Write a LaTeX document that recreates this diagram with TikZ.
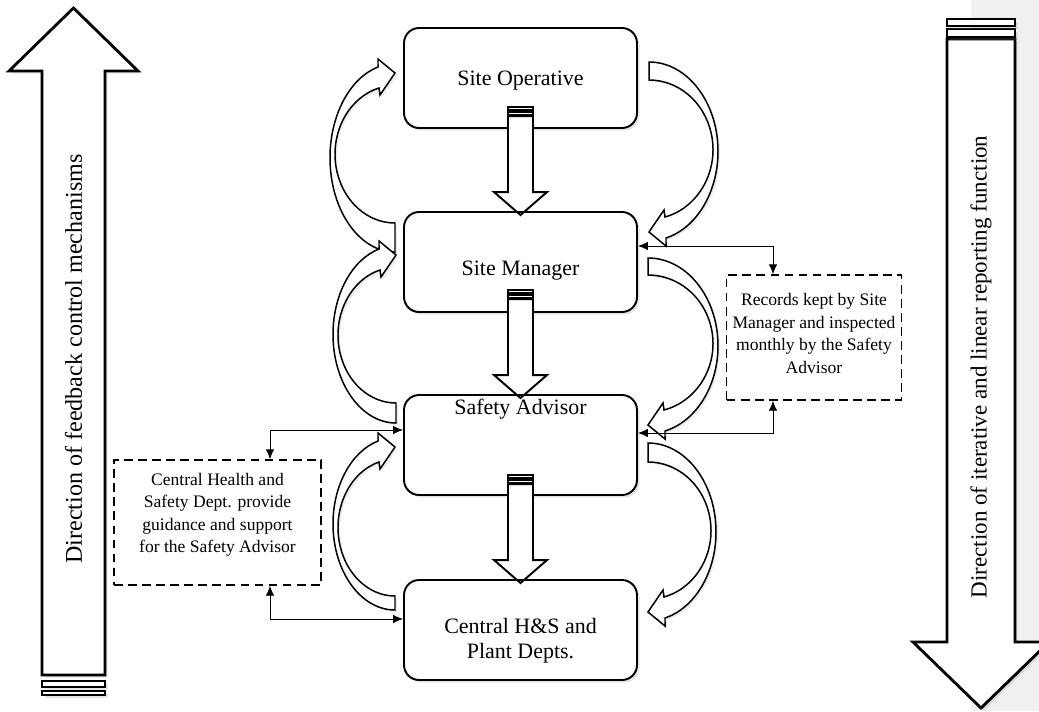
\documentclass[tikz,border=0pt]{standalone}
\usepackage{fontspec}
\setmainfont{Liberation Serif}
\usetikzlibrary{arrows.meta,shadows}
\tikzset{
  stage/.style={draw,line width=1.1pt,rounded corners=0.3cm,fill=white,minimum width=4.66cm,inner ysep=0.1cm,align=center,font=\fontsize{12.5}{14.2}\selectfont,drop shadow={opacity=0.2,shadow xshift=1.5pt,shadow yshift=-1.5pt}},
  note/.style={draw,line width=0.8pt,dash pattern=on 5pt off 3pt,fill=white,align=center,inner ysep=0.1cm,font=\fontsize{10}{12.8}\selectfont},
  bigarrow/.style={draw,line width=1.6pt,fill=white,drop shadow={opacity=0.2,shadow xshift=1.5pt,shadow yshift=-1.5pt}},
  droparrow/.style={draw,line width=1.1pt},
  bendarrow/.style={draw,line width=0.85pt,fill=white,drop shadow={opacity=0.15,shadow xshift=1.2pt,shadow yshift=-1.2pt}},
  sidetext/.style={rotate=90},
  link/.style={<->,line width=0.5pt}
}
\newcommand{\tikzBendArrow}[4]{% #1 scope options, #2 span, #3 tail width, #4 bulge
  \pgfmathsetmacro{\bendSo}{sqrt(1-(17/#4)^2)}
  \pgfmathsetmacro{\bendRo}{(#2+6)/(1+\bendSo)}
  \pgfmathsetmacro{\bendAo}{180+acos(17/#4)}
  \pgfmathsetmacro{\bendRx}{#4-5}
  \pgfmathsetmacro{\bendSi}{sqrt(1-(16/\bendRx)^2)}
  \pgfmathsetmacro{\bendRi}{(#2-#3-15)/(1+\bendSi)}
  \pgfmathsetmacro{\bendAi}{180+acos(16/\bendRx)}
  \begin{scope}[#1]
    \draw[bendarrow] (0,#2)
      arc[start angle=90,end angle=\bendAo,x radius=#4,y radius=\bendRo]
      -- (-17,-14) -- (0,0) -- (-15,22) -- (-16,15)
      arc[start angle=\bendAi,end angle=90,x radius=\bendRx,y radius=\bendRi] -- cycle;
  \end{scope}
}
\newcommand{\tikzDropArrow}[1]{% #1 = node the arrow points at
  \begin{scope}[shift={(#1.north)}]
    \fill[white] (-12.5,-95) rectangle (12.5,-19);
    \draw[droparrow] (-12.5,-95) -- (-12.5,-19) -- (-26.5,-19) -- (0,4) -- (26.5,-19) -- (12.5,-19) -- (12.5,-95) -- cycle;
    \draw[droparrow] (-12.5,-104) rectangle (12.5,-101);
    \draw[droparrow] (-12.5,-99.5) rectangle (12.5,-96.5);
  \end{scope}
}
\begin{document}
\begin{tikzpicture}[x=0.02cm,y=-0.02cm,>={Latex[length=2mm,width=1.7mm]}]
  \useasboundingbox (0,0) rectangle (1039,711);
  \fill[black!6] (971,0) rectangle (1039,711);

  % side arrows
  \draw[bigarrow] (42,675) -- (42,71) -- (9,71) -- (73.5,8) -- (138,71) -- (105,71) -- (105,675) -- cycle;
  \draw[bigarrow] (42,681) rectangle (105,687);
  \draw[bigarrow] (42,691) rectangle (105,695);
  \node [sidetext,font=\fontsize{13.7}{16}\selectfont] (feedback) at (73.5,359) {Direction of feedback control mechanisms};
  \draw[bigarrow] (947,39) -- (947,642) -- (913,642) -- (981,708) -- (1049,642) -- (1015,642) -- (1015,39) -- cycle;
  \draw[bigarrow] (947,29) rectangle (1015,37);
  \draw[bigarrow] (947,19) rectangle (1015,26);
  \node [sidetext,font=\fontsize{13.1}{16}\selectfont] (reporting) at (981,367) {Direction of iterative and linear reporting function};

  % chain of roles
  \node [stage,text height=1.05cm,text depth=0.75cm] (op) at (520.5,78) {Site Operative};
  \node [stage,text height=1.17cm,text depth=0.63cm] (mgr) at (520.5,262) {Site Manager};
  \node [stage,text height=0.28cm,text depth=1.52cm] (adv) at (520.5,445) {Safety Advisor};
  \node [stage,text height=1.47cm,text depth=0.33cm] (cen) at (520.5,630) {Central H\&S and\\Plant Depts.};
  \tikzDropArrow{mgr}
  \tikzDropArrow{adv}
  \tikzDropArrow{cen}

  % feedback loops
  \tikzBendArrow{shift={(395,73)}}{179}{29}{65}
  \tikzBendArrow{shift={(396,255)}}{168}{20}{63}
  \tikzBendArrow{shift={(395,447)}}{163}{14}{62}
  \tikzBendArrow{shift={(649,232)},rotate=180}{170}{18}{69}
  \tikzBendArrow{shift={(648,425)},rotate=180}{167}{17}{70}
  \tikzBendArrow{shift={(648,612)},rotate=180}{169}{19}{68}

  % notes
  \node [note,minimum width=3.44cm,text height=1.86cm,text depth=0.44cm] (rec) at (814,337.5) {Records kept by Site\\Manager and inspected\\monthly by the Safety\\Advisor};
  \node [note,minimum width=4.14cm,text height=1.75cm,text depth=0.55cm] (csd) at (217.5,522.5) {Central Health and\\Safety Dept. provide\\guidance and support\\for the Safety Advisor};
  \coordinate (rtop) at (773,246);
  \coordinate (rbot) at (773,433);
  \coordinate (ltop) at (270,430);
  \coordinate (lbot) at (270,619);
  \draw[link] (mgr.east |- rtop) -- (rtop) -- (rec.north -| rtop);
  \draw[link] (adv.east |- rbot) -- (rbot) -- (rec.south -| rbot);
  \draw[link] (adv.west |- ltop) -- (ltop) -- (csd.north -| ltop);
  \draw[link] (cen.west |- lbot) -- (lbot) -- (csd.south -| lbot);
\end{tikzpicture}
\end{document}
